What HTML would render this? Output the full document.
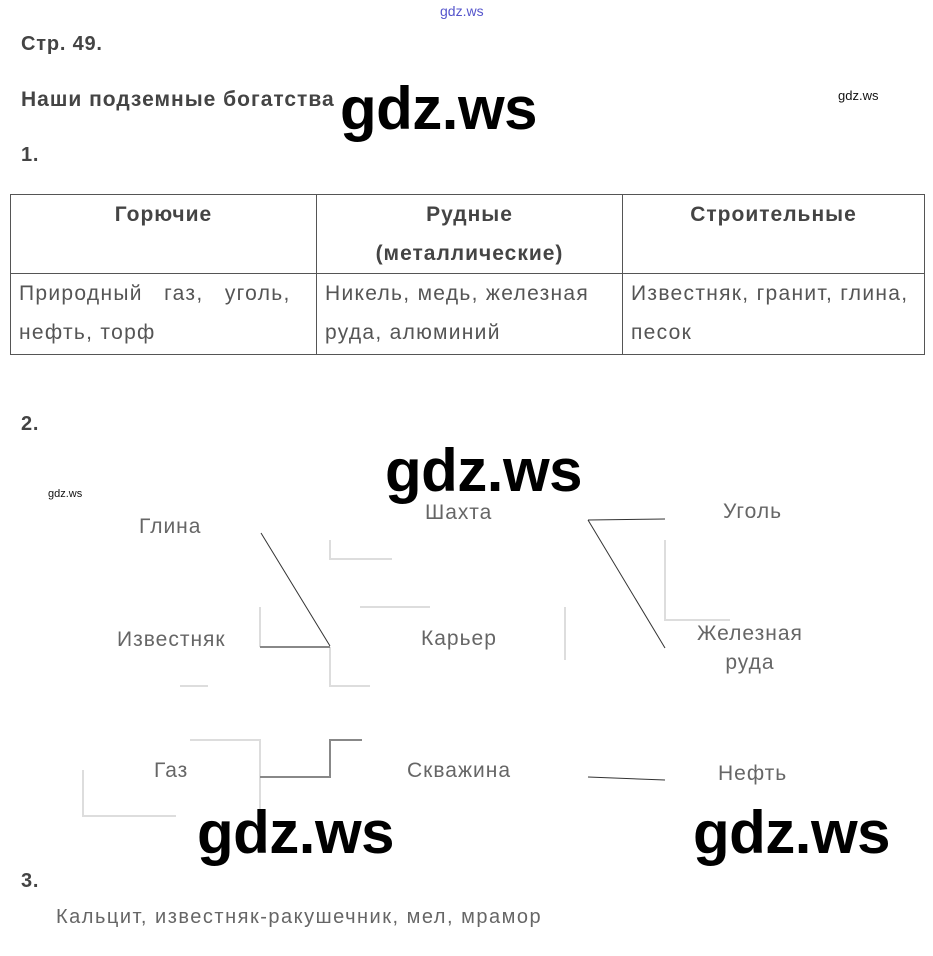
<!DOCTYPE html>
<html><head><meta charset="utf-8"><style>
body{margin:0;width:933px;height:956px;background:#fff;position:relative;overflow:hidden;font-family:"Liberation Sans",sans-serif;}
.a{position:absolute;white-space:nowrap;}
.h{color:#444;font-weight:bold;font-size:20px;letter-spacing:0.8px;}
.t{color:#555;font-size:20px;}
.d{color:#666;font-size:21px;letter-spacing:1px;}
.w{color:#000;font-weight:bold;font-size:60px;letter-spacing:-0.5px;}
table{position:absolute;left:10px;top:194px;border-collapse:collapse;width:915px;}
td{border:1px solid #555;vertical-align:top;font-size:21px;letter-spacing:1.3px;color:#555;padding:0 8px;line-height:39px;height:80px;}
th{border:1px solid #555;vertical-align:top;font-size:21px;letter-spacing:1px;color:#444;font-weight:bold;line-height:39px;padding:0;height:78px;}
</style></head><body>
<div class="a" style="left:440px;top:3px;font-size:14px;color:#55c;">gdz.ws</div>
<div class="a h" style="left:21px;top:33px;">Стр. 49.</div>
<div class="a h" style="left:21px;top:88px;font-size:21px;letter-spacing:1px;">Наши подземные богатства</div>
<div class="a" style="left:838px;top:88px;font-size:13px;color:#111;">gdz.ws</div>
<div class="a w" style="left:340px;top:74px;">gdz.ws</div>
<div class="a h" style="left:21px;top:144px;">1.</div>
<table><tr><th style="width:305px">Горючие</th><th style="width:305px">Рудные<br>(металлические)</th><th>Строительные</th></tr>
<tr><td style="text-align:justify;text-align-last:left">Природный&nbsp;&nbsp; газ,&nbsp;&nbsp; уголь,<br>нефть, торф</td><td style="text-align:justify">Никель, медь, железная<br>руда, алюминий</td><td>Известняк, гранит, глина,<br>песок</td></tr></table>
<div class="a h" style="left:21px;top:413px;">2.</div>
<div class="a w" style="left:385px;top:436px;">gdz.ws</div>
<div class="a" style="left:48px;top:488px;font-size:11px;color:#111;">gdz.ws</div>
<div class="a d" style="left:139px;top:515px;">Глина</div>
<div class="a d" style="left:117px;top:628px;">Известняк</div>
<div class="a d" style="left:154px;top:759px;">Газ</div>
<div class="a d" style="left:425px;top:501px;">Шахта</div>
<div class="a d" style="left:421px;top:627px;">Карьер</div>
<div class="a d" style="left:407px;top:759px;">Скважина</div>
<div class="a d" style="left:723px;top:500px;">Уголь</div>
<div class="a d" style="left:697px;top:619px;text-align:center;line-height:29px;">Железная<br>руда</div>
<div class="a d" style="left:718px;top:762px;">Нефть</div>
<svg class="a" style="left:0;top:0" width="933" height="956">
<g stroke="#ddd" stroke-width="2" fill="none">
<path d="M330 540V559H392"/><path d="M665 540V620H730"/><path d="M260 607V647"/><path d="M360 607H430"/><path d="M330 647V686H370"/><path d="M180 686H208"/><path d="M190 740H260V830"/><path d="M330 740V777"/><path d="M83 770V816H176M132 816H176"/><path d="M565 607V660"/></g>
<g stroke="#333" stroke-width="1" fill="none">
<path d="M261 533L330 646"/><path d="M588 520L665 519"/><path d="M588 520L665 648"/><path d="M588 777L665 780"/></g>
<g stroke="#888" stroke-width="2" fill="none"><path d="M260 647H330"/><path d="M260 777H330V740H362"/></g>
</svg>
<div class="a w" style="left:197px;top:798px;">gdz.ws</div>
<div class="a w" style="left:693px;top:798px;">gdz.ws</div>
<div class="a h" style="left:21px;top:870px;">3.</div>
<div class="a t" style="left:56px;top:906px;color:#666;letter-spacing:1.5px;">Кальцит, известняк-ракушечник, мел, мрамор</div>
</body></html>
